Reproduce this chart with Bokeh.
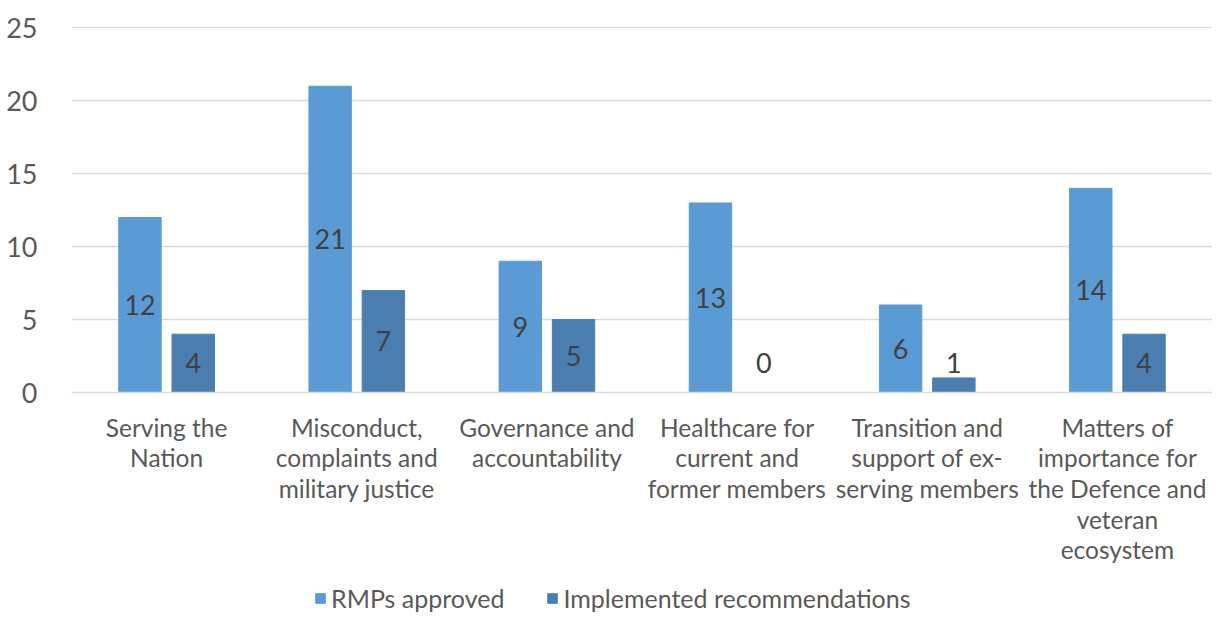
from bokeh.plotting import figure
from bokeh.layouts import column
from bokeh.models import FactorRange, ColumnDataSource, Legend, LegendItem, FixedTicker
from bokeh.transform import dodge
from bokeh.core.properties import value
from bokeh.embed import file_html
from bokeh.resources import INLINE

categories = [
    "Serving the\nNation",
    "Misconduct,\ncomplaints and\nmilitary justice",
    "Governance and\naccountability",
    "Healthcare for\ncurrent and\nformer members",
    "Transition and\nsupport of ex-\nserving members",
    "Matters of\nimportance for\nthe Defence and\nveteran\necosystem",
]
rmps_approved = [12, 21, 9, 13, 6, 14]
implemented = [4, 7, 5, 0, 1, 4]
y_ticks = [0, 5, 10, 15, 20, 25]
series_names = ["RMPs approved", "Implemented recommendations"]

FONT = "Lato"
LIGHT = "#5B9BD5"
DARK = "#4A7EB1"

src = ColumnDataSource(dict(
    cat=categories,
    rmp=rmps_approved,
    imp=implemented,
    rmp_lab=[str(v) for v in rmps_approved],
    imp_lab=[str(v) for v in implemented],
    rmp_y=[max(v / 2, 2) for v in rmps_approved],
    imp_y=[max(v / 2, 2) for v in implemented],
))

W = 1212
H_MAIN = 580
H_LEG = 34

p = figure(width=W, height=H_MAIN, x_range=FactorRange(*categories, range_padding=0),
           y_range=(0, 25.1), output_backend="svg", toolbar_location=None,
           min_border_left=71, min_border_right=0, min_border_top=26,
           min_border_bottom=H_MAIN - 392)
p.outline_line_color = None
p.background_fill_color = "white"
p.border_fill_color = "white"

off = 0.14
w = 0.223
p.vbar(x=dodge("cat", -off, range=p.x_range), top="rmp", width=w, source=src,
       fill_color=LIGHT, line_color=LIGHT)
p.vbar(x=dodge("cat", off, range=p.x_range), top="imp", width=w, source=src,
       fill_color=DARK, line_color=DARK)

p.text(x=dodge("cat", -off, range=p.x_range), y="rmp_y", text="rmp_lab", source=src,
       text_align="center", text_baseline="middle", text_font=value(FONT),
       text_font_size="27px", text_color="#404040")
p.text(x=dodge("cat", off, range=p.x_range), y="imp_y", text="imp_lab", source=src,
       text_align="center", text_baseline="middle", text_font=value(FONT),
       text_font_size="27px", text_color="#404040")

# axes
p.yaxis.ticker = FixedTicker(ticks=y_ticks)
p.yaxis.axis_line_color = None
p.yaxis.major_tick_line_color = None
p.yaxis.minor_tick_line_color = None
p.yaxis.major_label_text_font = FONT
p.yaxis.major_label_text_font_size = "27px"
p.yaxis.major_label_text_color = "#595959"
p.yaxis.major_label_standoff = 28

p.xaxis.axis_line_color = "#D9D9D9"
p.xaxis.axis_line_width = 1.5
p.xaxis.major_tick_line_color = None
p.xaxis.minor_tick_line_color = None
p.xaxis.major_label_text_font = FONT
p.xaxis.major_label_text_font_size = "24.5px"
p.xaxis.major_label_text_color = "#595959"
p.xaxis.major_label_text_line_height = 1.06
p.xaxis.major_label_standoff = 14
p.xaxis.major_label_orientation = "horizontal"

p.xgrid.grid_line_color = None
p.ygrid.grid_line_color = "#D9D9D9"
p.ygrid.grid_line_width = 1.5

# legend strip (separate small figure so the legend is not clipped by the frame)
pl = figure(width=W, height=H_LEG, x_range=(0, 1), y_range=(0, 1),
            output_backend="svg", toolbar_location=None,
            min_border_left=0, min_border_right=0, min_border_top=0, min_border_bottom=0)
pl.axis.visible = False
pl.grid.visible = False
pl.outline_line_color = None
pl.border_fill_color = "white"
nan = float("nan")
l1 = pl.vbar(x=[nan], top=[nan], width=0.1, fill_color=LIGHT, line_color=LIGHT)
l2 = pl.vbar(x=[nan], top=[nan], width=0.1, fill_color=DARK, line_color=DARK)

legend = Legend(items=[
    LegendItem(label=series_names[0], renderers=[l1]),
    LegendItem(label=series_names[1], renderers=[l2]),
], orientation="horizontal", location=(243, 1),
    label_text_font=FONT, label_text_font_size="25px", label_text_color="#595959",
    glyph_width=12, glyph_height=12, label_standoff=5, spacing=42,
    padding=0, margin=0, border_line_color=None, background_fill_alpha=0)
pl.add_layout(legend, "center")

layout = column(p, pl, spacing=0)
open("out.html", "w").write(file_html(layout, INLINE))
